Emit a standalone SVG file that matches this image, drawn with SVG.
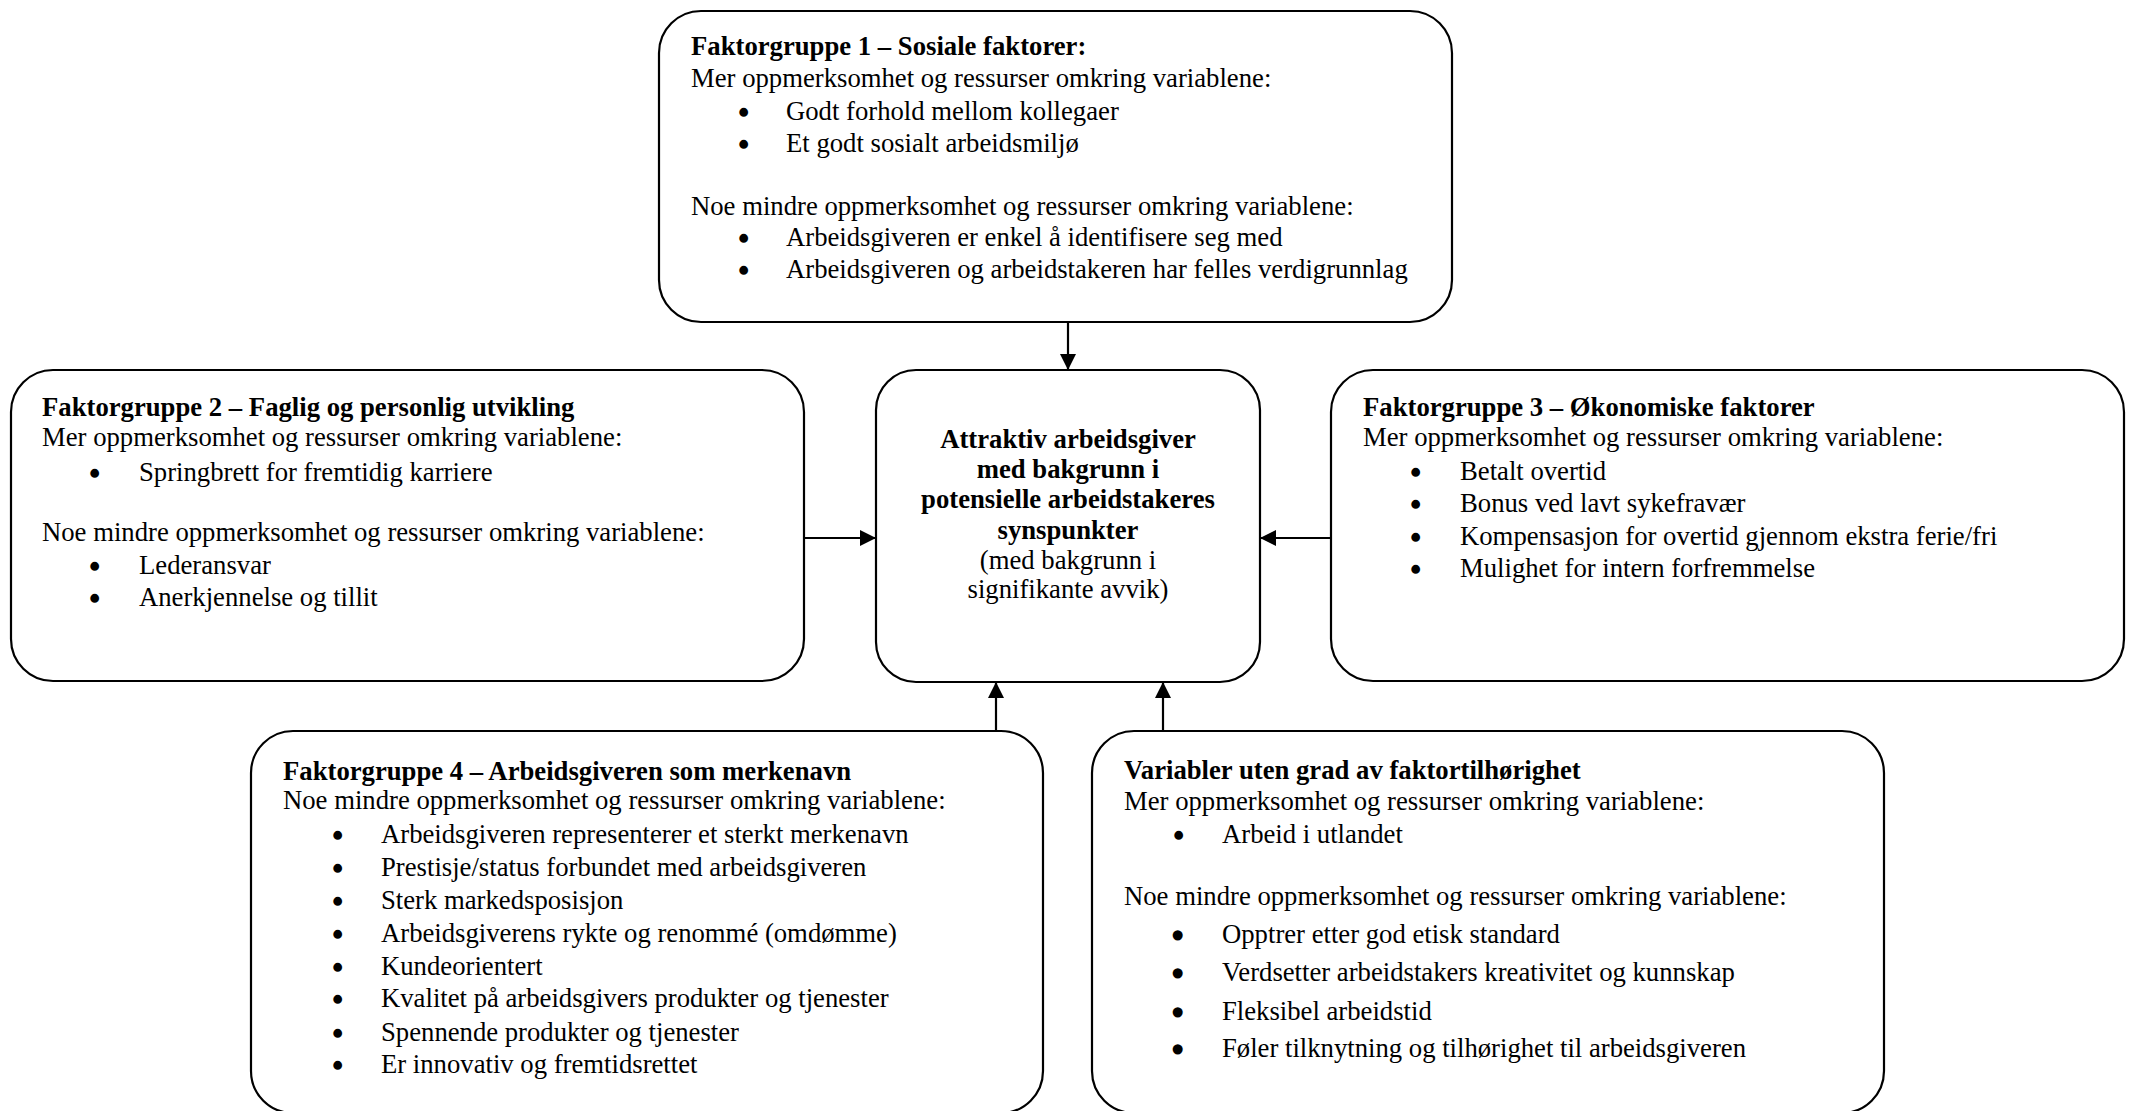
<svg xmlns="http://www.w3.org/2000/svg" width="2136" height="1111" viewBox="0 0 2136 1111">
  <style>
    .box { fill: #ffffff; stroke: #000000; stroke-width: 2.2; }
    .t { font-family: "Liberation Serif", "Times New Roman", serif; font-size: 26.7px; fill: #000000; }
    .b { font-weight: bold; }
    .c { text-anchor: middle; }
    /* list bullets: normal size glyph, thickened with a stroke */
    .blt { font-family: "Liberation Serif", "Times New Roman", serif; font-size: 26.7px; fill: #000000; stroke: #000000; stroke-width: 2.4; stroke-linejoin: round; }
    .blt2 { font-family: "Liberation Serif", "Times New Roman", serif; font-size: 26.7px; fill: #000000; stroke: #000000; stroke-width: 3.6; stroke-linejoin: round; }
    .edge { fill: none; stroke: #000000; stroke-width: 2.2; marker-end: url(#arrow); }
  </style>
  <defs>
    <marker id="arrow" viewBox="0 0 16 16" refX="16" refY="8" markerWidth="16" markerHeight="16" markerUnits="userSpaceOnUse" orient="auto">
      <path d="M0,0 L16,8 L0,16 z" fill="#000000"/>
    </marker>
  </defs>
  <rect width="2136" height="1111" fill="#ffffff"/>

  <!-- connectors into the central box -->
  <g id="connectors">
    <line class="edge" x1="1068" y1="322" x2="1068" y2="370"/>
    <line class="edge" x1="804" y1="538" x2="876" y2="538"/>
    <line class="edge" x1="1331" y1="538" x2="1260" y2="538"/>
    <line class="edge" x1="996" y1="731" x2="996" y2="682"/>
    <line class="edge" x1="1163" y1="731" x2="1163" y2="682"/>
  </g>

  <!-- Faktorgruppe 1 -->
  <g id="faktor1">
    <rect class="box" x="659" y="11" width="793" height="311" rx="42" ry="42"/>
    <text class="t b" x="691" y="55">Faktorgruppe 1 – Sosiale faktorer:</text>
    <text class="t" x="691" y="87">Mer oppmerksomhet og ressurser omkring variablene:</text>
    <text class="blt" x="739" y="122">•</text>
    <text class="t" x="786" y="120">Godt forhold mellom kollegaer</text>
    <text class="blt" x="739" y="154">•</text>
    <text class="t" x="786" y="152">Et godt sosialt arbeidsmiljø</text>
    <text class="t" x="691" y="215">Noe mindre oppmerksomhet og ressurser omkring variablene:</text>
    <text class="blt" x="739" y="248">•</text>
    <text class="t" x="786" y="246">Arbeidsgiveren er enkel å identifisere seg med</text>
    <text class="blt" x="739" y="280">•</text>
    <text class="t" x="786" y="278">Arbeidsgiveren og arbeidstakeren har felles verdigrunnlag</text>
  </g>

  <!-- Faktorgruppe 2 -->
  <g id="faktor2">
    <rect class="box" x="11" y="370" width="793" height="311" rx="42" ry="42"/>
    <text class="t b" x="42" y="416">Faktorgruppe 2 – Faglig og personlig utvikling</text>
    <text class="t" x="42" y="446">Mer oppmerksomhet og ressurser omkring variablene:</text>
    <text class="blt" x="90" y="483">•</text>
    <text class="t" x="139" y="481">Springbrett for fremtidig karriere</text>
    <text class="t" x="42" y="541">Noe mindre oppmerksomhet og ressurser omkring variablene:</text>
    <text class="blt" x="90" y="576">•</text>
    <text class="t" x="139" y="574">Lederansvar</text>
    <text class="blt" x="90" y="608">•</text>
    <text class="t" x="139" y="606">Anerkjennelse og tillit</text>
  </g>

  <!-- Central box -->
  <g id="attraktiv">
    <rect class="box" x="876" y="370" width="384" height="312" rx="40" ry="40"/>
    <text class="t b c" x="1068" y="448">Attraktiv arbeidsgiver</text>
    <text class="t b c" x="1068" y="478">med bakgrunn i</text>
    <text class="t b c" x="1068" y="508">potensielle arbeidstakeres</text>
    <text class="t b c" x="1068" y="539">synspunkter</text>
    <text class="t c" x="1068" y="569">(med bakgrunn i</text>
    <text class="t c" x="1068" y="598">signifikante avvik)</text>
  </g>

  <!-- Faktorgruppe 3 -->
  <g id="faktor3">
    <rect class="box" x="1331" y="370" width="793" height="311" rx="42" ry="42"/>
    <text class="t b" x="1363" y="416">Faktorgruppe 3 – Økonomiske faktorer</text>
    <text class="t" x="1363" y="446">Mer oppmerksomhet og ressurser omkring variablene:</text>
    <text class="blt" x="1411" y="482">•</text>
    <text class="t" x="1460" y="480">Betalt overtid</text>
    <text class="blt" x="1411" y="514">•</text>
    <text class="t" x="1460" y="512">Bonus ved lavt sykefravær</text>
    <text class="blt" x="1411" y="547">•</text>
    <text class="t" x="1460" y="545">Kompensasjon for overtid gjennom ekstra ferie/fri</text>
    <text class="blt" x="1411" y="579">•</text>
    <text class="t" x="1460" y="577">Mulighet for intern forfremmelse</text>
  </g>

  <!-- Faktorgruppe 4 -->
  <g id="faktor4">
    <rect class="box" x="251" y="731" width="792" height="382" rx="42" ry="42"/>
    <text class="t b" x="283" y="780">Faktorgruppe 4 – Arbeidsgiveren som merkenavn</text>
    <text class="t" x="283" y="809">Noe mindre oppmerksomhet og ressurser omkring variablene:</text>
    <text class="blt" x="333" y="845">•</text>
    <text class="t" x="381" y="843">Arbeidsgiveren representerer et sterkt merkenavn</text>
    <text class="blt" x="333" y="878">•</text>
    <text class="t" x="381" y="876">Prestisje/status forbundet med arbeidsgiveren</text>
    <text class="blt" x="333" y="911">•</text>
    <text class="t" x="381" y="909">Sterk markedsposisjon</text>
    <text class="blt" x="333" y="944">•</text>
    <text class="t" x="381" y="942">Arbeidsgiverens rykte og renommé (omdømme)</text>
    <text class="blt" x="333" y="977">•</text>
    <text class="t" x="381" y="975">Kundeorientert</text>
    <text class="blt" x="333" y="1009">•</text>
    <text class="t" x="381" y="1007">Kvalitet på arbeidsgivers produkter og tjenester</text>
    <text class="blt" x="333" y="1043">•</text>
    <text class="t" x="381" y="1041">Spennende produkter og tjenester</text>
    <text class="blt" x="333" y="1075">•</text>
    <text class="t" x="381" y="1073">Er innovativ og fremtidsrettet</text>
  </g>

  <!-- Variabler uten grad av faktortilhørighet -->
  <g id="uten-faktor">
    <rect class="box" x="1092" y="731" width="792" height="382" rx="42" ry="42"/>
    <text class="t b" x="1124" y="779">Variabler uten grad av faktortilhørighet</text>
    <text class="t" x="1124" y="810">Mer oppmerksomhet og ressurser omkring variablene:</text>
    <text class="blt" x="1174" y="845">•</text>
    <text class="t" x="1222" y="843">Arbeid i utlandet</text>
    <text class="t" x="1124" y="905">Noe mindre oppmerksomhet og ressurser omkring variablene:</text>
    <text class="blt2" x="1173" y="945">•</text>
    <text class="t" x="1222" y="943">Opptrer etter god etisk standard</text>
    <text class="blt2" x="1173" y="983">•</text>
    <text class="t" x="1222" y="981">Verdsetter arbeidstakers kreativitet og kunnskap</text>
    <text class="blt2" x="1173" y="1022">•</text>
    <text class="t" x="1222" y="1020">Fleksibel arbeidstid</text>
    <text class="blt2" x="1173" y="1059">•</text>
    <text class="t" x="1222" y="1057">Føler tilknytning og tilhørighet til arbeidsgiveren</text>
  </g>
</svg>
